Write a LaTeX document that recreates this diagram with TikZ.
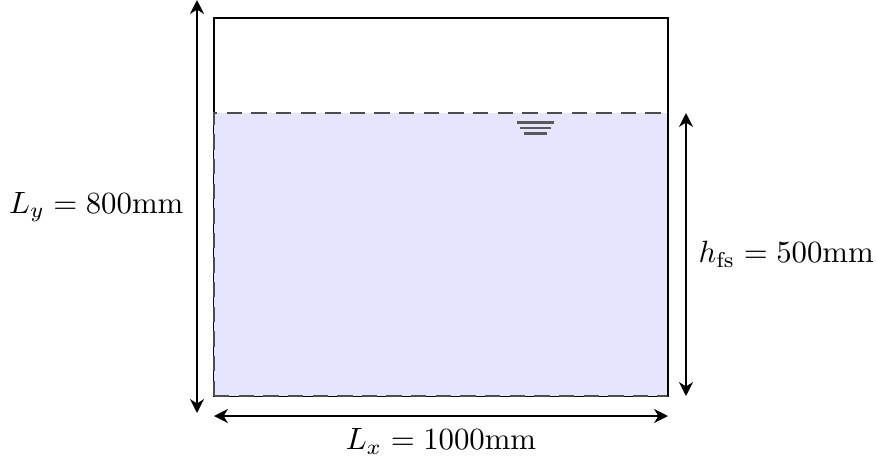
\documentclass[tikz,border=0pt]{standalone}
\usepackage{amsmath}
\usetikzlibrary{arrows.meta}
\begin{document}
\begin{tikzpicture}[x=0.011416cm,y=-0.011416cm,
  dimarrow/.style={line width=0.9pt,{Stealth[length=4.5pt,width=4.5pt,inset=1.4pt]}-{Stealth[length=4.5pt,width=4.5pt,inset=1.4pt]}},
  lbl/.style={inner sep=0pt},
  surf/.style={black!65,line width=0.75pt}]
\useasboundingbox (0,0) rectangle (876,459);
% tank
\coordinate (tl) at (214,18);
\coordinate (br) at (668,396);
\coordinate (wl) at (214,113);
\coordinate (wr) at (668,113);
\draw[semithick] (tl) rectangle (br);
\fill[blue!10] (wl) rectangle (br);
\draw[black!70,semithick,dashed,dash pattern=on 5pt off 3pt] (214,396) -- (wl) -- (wr);
\draw[black!70,semithick,dashed,dash pattern=on 5pt off 3pt] (214,396) -- (668,396);
\draw[semithick] (668,18) -- (br);
% free surface symbol
\draw[surf] (517,122.5) -- (554,122.5);
\draw[surf] (520,128) -- (551,128);
\draw[surf] (524,133.5) -- (547,133.5);
% dimension arrows
\coordinate (ly1) at (197,0);
\coordinate (ly2) at (197,413);
\draw[dimarrow] (ly2) -- (ly1);
\node[lbl,anchor=east] (lylbl) at (184,207) {$L_y = 800\mathrm{mm}$};
\coordinate (lx1) at (214,416);
\coordinate (lx2) at (668,416);
\draw[dimarrow] (lx1) -- (lx2);
\node[lbl,anchor=north] (lxlbl) at (441,428) {$L_x = 1000\mathrm{mm}$};
\coordinate (h1) at (686,113);
\coordinate (h2) at (686,396);
\draw[dimarrow] (h2) -- (h1);
\node[lbl,anchor=west] (hlbl) at (698,254) {$h_{\mathrm{fs}} = 500\mathrm{mm}$};
\end{tikzpicture}
\end{document}
